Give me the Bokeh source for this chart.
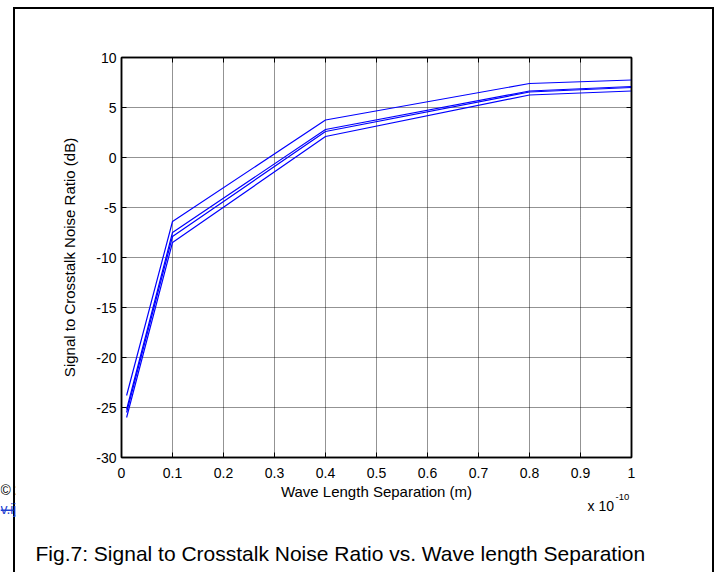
from bokeh.plotting import figure
from bokeh.models import LinearAxis, FixedTicker, Label, BoxAnnotation, Range1d
from bokeh.embed import file_html
from bokeh.resources import INLINE

# ---- data (x in units of 1e-10 m) ----
x_sep = [0.01, 0.1, 0.4, 0.8, 1.0]
snr_a = [-23.8, -6.4, 3.75, 7.4, 7.75]
snr_b = [-25.2, -7.5, 2.8, 6.65, 7.1]
snr_c = [-25.5, -7.9, 2.6, 6.55, 7.0]
snr_d = [-26.0, -8.5, 2.1, 6.25, 6.65]
series = [snr_a, snr_b, snr_c, snr_d]

x_ticks = [0, 0.1, 0.2, 0.3, 0.4, 0.5, 0.6, 0.7, 0.8, 0.9, 1.0]
x_tick_labels = ["0", "0.1", "0.2", "0.3", "0.4", "0.5", "0.6", "0.7", "0.8", "0.9", "1"]
y_ticks = [-30, -25, -20, -15, -10, -5, 0, 5, 10]
y_tick_labels = ["-30", "-25", "-20", "-15", "-10", "-5", "0", "5", "10"]

caption = "Fig.7: Signal to Crosstalk Noise Ratio vs. Wave length Separation"
x_scale_note = "x 10"
x_scale_exp = "-10"

FONT = "Liberation Sans"
W, H = 715, 572

box_css = {
    "background-color": "white",
    "background-image": "linear-gradient(black, black), linear-gradient(black, black), linear-gradient(black, black)",
    "background-size": "2px 100%, 700px 2px, 2px 100%",
    "background-position": "13px 7px, 13px 7px, 712px 7px",
    "background-repeat": "no-repeat",
}

p = figure(
    frame_width=510, frame_height=400,
    min_border_left=121, min_border_right=84, min_border_top=57, min_border_bottom=115,
    x_range=Range1d(0, 1), y_range=Range1d(-30, 10),
    output_backend="svg", toolbar_location=None,
    background_fill_color="white", border_fill_color=None,
    styles=box_css,
)

for s in series:
    p.line(x_sep, s, line_color="#0000ff", line_width=1.2)

# grid
p.grid.grid_line_color = "black"
p.grid.grid_line_dash = "1 1"
p.grid.grid_line_alpha = 0.85
p.grid.grid_line_width = 1
p.xgrid.ticker = FixedTicker(ticks=x_ticks)
p.ygrid.ticker = FixedTicker(ticks=y_ticks)

p.outline_line_color = "black"
p.outline_line_width = 1.5

def style_axis(ax, ticks, labels, show_labels=True):
    ax.ticker = FixedTicker(ticks=ticks)
    ax.major_label_overrides = {t: l for t, l in zip(ticks, labels)}
    ax.major_tick_in = 5
    ax.major_tick_out = 0
    ax.minor_tick_line_color = None
    ax.axis_line_color = "black"
    ax.axis_line_width = 1.5
    ax.major_tick_line_color = "black"
    ax.major_label_text_font = FONT
    ax.major_label_text_font_size = "14px"
    ax.major_label_text_color = "black" if show_labels else None
    ax.axis_label_text_font = FONT
    ax.axis_label_text_font_size = "15px"
    ax.axis_label_text_font_style = "normal"
    ax.axis_label_text_color = "black"

style_axis(p.xaxis[0], x_ticks, x_tick_labels)
style_axis(p.yaxis[0], y_ticks, y_tick_labels)
p.xaxis.axis_label = "Wave Length Separation (m)"
p.yaxis.axis_label = "Signal to Crosstalk Noise Ratio (dB)"
p.xaxis.major_label_standoff = 10
p.xaxis.axis_label_standoff = 2
p.yaxis.major_label_standoff = 5
p.yaxis.axis_label_standoff = 15

top_ax = LinearAxis()
style_axis(top_ax, x_ticks, x_tick_labels, show_labels=False)
top_ax.major_label_text_font_size = "1px"
p.add_layout(top_ax, "above")
right_ax = LinearAxis()
style_axis(right_ax, y_ticks, y_tick_labels, show_labels=False)
right_ax.major_label_text_font_size = "1px"
p.add_layout(right_ax, "right")

# ---- transparent overlay canvas for texts outside the plot frame ----
ov = figure(
    frame_width=W, frame_height=H, min_border=0,
    x_range=Range1d(0, W), y_range=Range1d(H, 0),
    x_axis_type=None, y_axis_type=None,
    output_backend="svg", toolbar_location=None,
    background_fill_color=None, border_fill_color=None, outline_line_color=None,
    styles={"position": "absolute", "left": "0px", "top": "0px"},
)
ov.grid.visible = False

def lab(x, y, text, size, color="black", align="left", baseline="alphabetic"):
    l = Label(x=x, y=y, text=text,
              text_font=FONT, text_font_size=size, text_color=color,
              text_align=align, text_baseline=baseline)
    ov.add_layout(l)
    return l

lab(587, 505, x_scale_note, "14px")
lab(615, 496, x_scale_exp, "9.5px")
lab(35, 553, caption, "21px")
lab(0, 489, "\u00a9 2", "14px")
lab(0, 508, "v.ij", "14px", color="#1f3fcf")
ov.add_layout(BoxAnnotation(left=0, right=13, top=509, bottom=510.5,
                            fill_color="#1f3fcf", fill_alpha=1, line_color=None))
ov.add_layout(BoxAnnotation(left=15, right=32, top=470, bottom=515,
                            fill_color="white", fill_alpha=1, line_color=None))

open("out.html", "w").write(file_html([p, ov], INLINE))
